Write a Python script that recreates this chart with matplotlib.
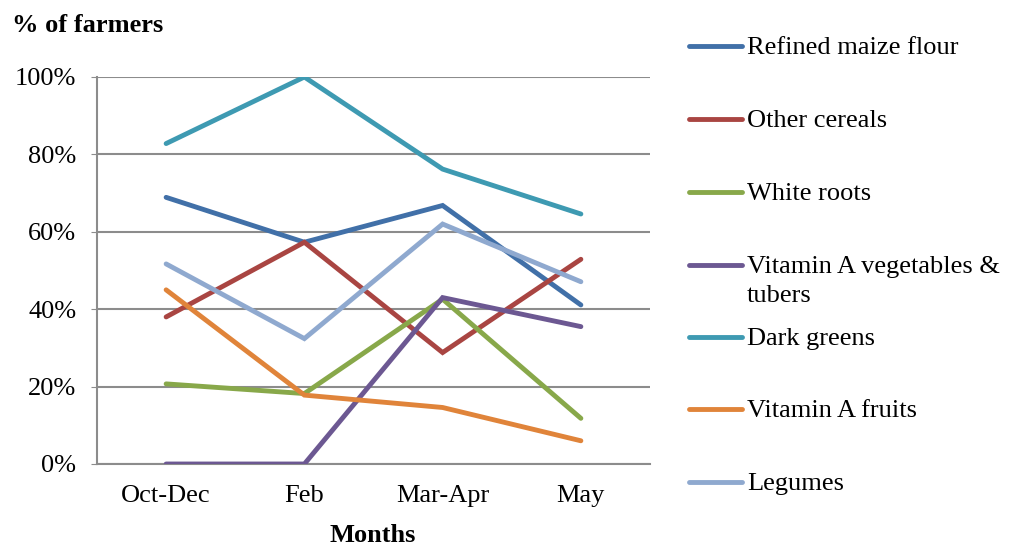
import matplotlib.pyplot as plt
from matplotlib.lines import Line2D

months = ['Oct-Dec', 'Feb', 'Mar-Apr', 'May']
series_names = ['Refined maize flour', 'Other cereals', 'White roots',
                'Vitamin A vegetables &\ntubers', 'Dark greens',
                'Vitamin A fruits', 'Legumes']
maize = [68.9, 57.3, 66.8, 41.1]
cereals = [38.0, 57.3, 28.8, 52.9]
white_roots = [20.7, 18.2, 42.6, 11.8]
vita_veg = [0, 0, 43.0, 35.5]
dark_greens = [82.8, 100, 76.2, 64.6]
vita_fruits = [45.0, 17.8, 14.6, 6.0]
legumes = [51.7, 32.4, 62.0, 47.1]
colors = ['#4170A8', '#A94542', '#88A84A', '#6C5892', '#3E9AB2', '#E0843A', '#8FA9CF']
yticks = [0, 20, 40, 60, 80, 100]

plt.rcParams['font.family'] = ['Liberation Serif', 'DejaVu Serif']
FS = 19

fig = plt.figure(figsize=(10.09, 5.46), dpi=100)
ax = fig.add_axes([97 / 1009, 1 - 464 / 546, 553 / 1009, 387 / 546])

all_series = [maize, cereals, white_roots, vita_veg, dark_greens, vita_fruits, legumes]
x = range(len(months))
for vals, c in zip(all_series, colors):
    ax.plot(x, vals, color=c, lw=3.5, solid_capstyle='round', solid_joinstyle='miter', zorder=3)

ax.set_xlim(-0.5, 3.5)
ax.set_ylim(0, 100)
ax.set_yticks(yticks)
ax.set_yticklabels([f'{v}%' for v in yticks])
ax.set_xticks(list(x))
ax.set_xticklabels(months)
ax.grid(axis='y', color='#8C8C8C', lw=1.5, zorder=1)
for s in ['top', 'right']:
    ax.spines[s].set_visible(False)
for s in ['left', 'bottom']:
    ax.spines[s].set_color('#8C8C8C')
    ax.spines[s].set_linewidth(1.5)
ax.tick_params(axis='x', length=0, labelsize=FS, pad=15)
ax.tick_params(axis='y', length=4, color='#8C8C8C', labelsize=FS, pad=11)

fig.text(12 / 1009, 1 - 26 / 546, '% of farmers', fontsize=FS, fontweight='bold', va='center')
fig.text(373 / 1009, 1 - 535 / 546, 'Months', fontsize=FS, fontweight='bold', ha='center', va='center')

# legend drawn by hand to match the reference layout
leg_y = [46, 119, 192, 265, 337, 409, 482]
for name, c, yy in zip(series_names, colors, leg_y):
    fy = 1 - yy / 546
    fig.add_artist(Line2D([689 / 1009, 742 / 1009], [fy, fy], color=c, lw=3.5,
                          solid_capstyle='round', transform=fig.transFigure))
    if '\n' in name:
        fig.text(747 / 1009, 1 - (yy - 9) / 546, name, fontsize=FS, va='top', linespacing=1.4)
    else:
        fig.text(747 / 1009, 1 - (yy + 2) / 546, name, fontsize=FS, va='center')

fig.savefig('out.png', dpi=100)
